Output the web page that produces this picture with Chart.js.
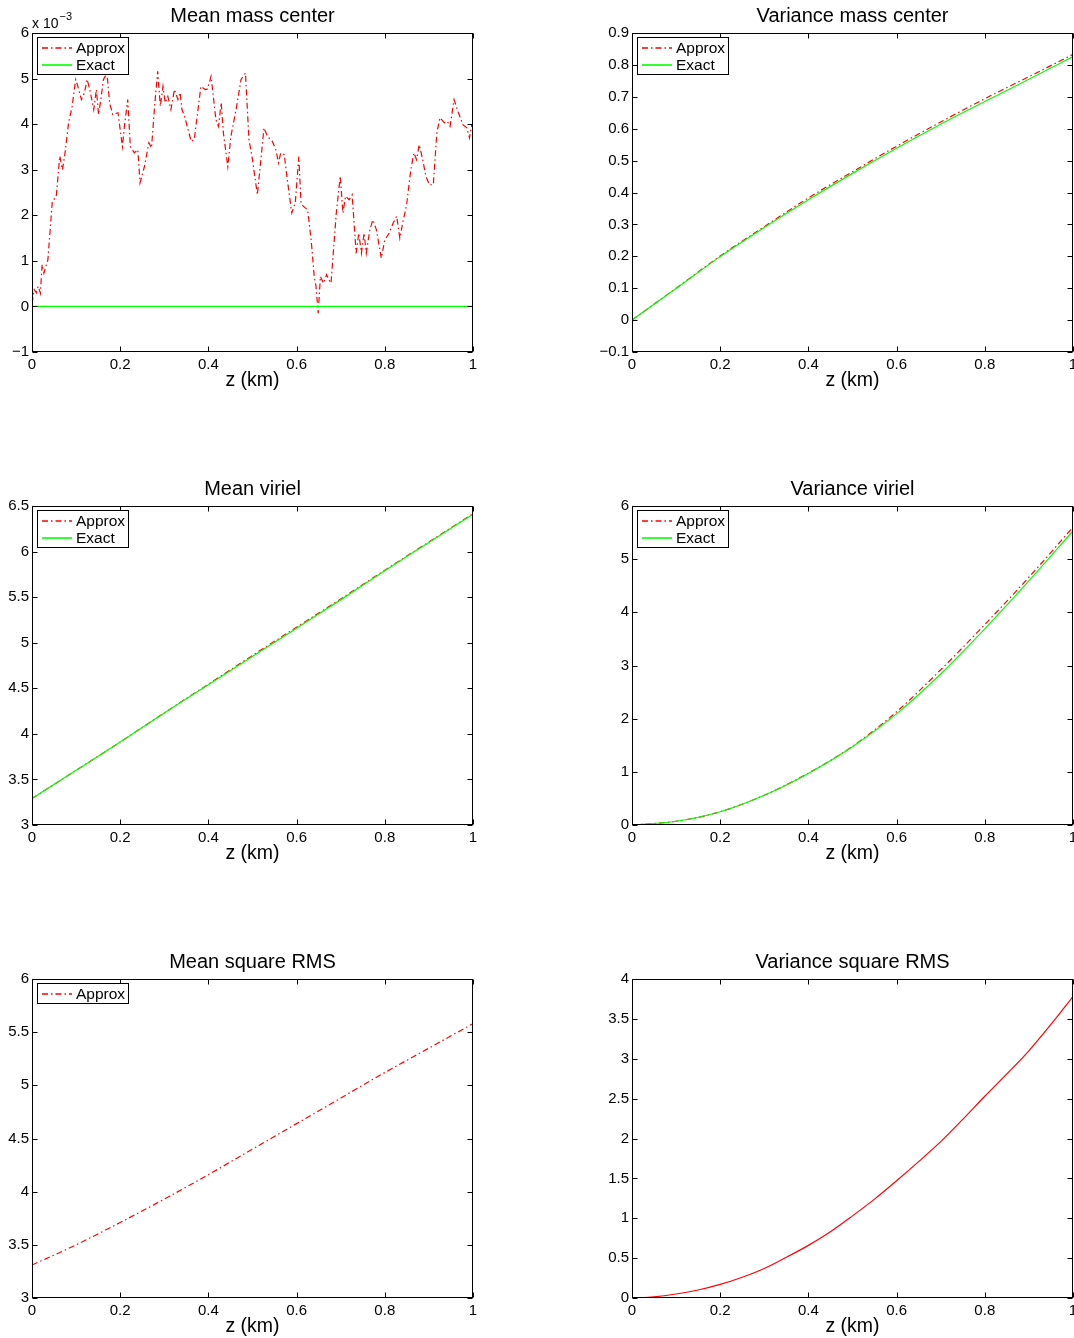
<!DOCTYPE html>
<html>
<head>
<meta charset="utf-8">
<script src="https://cdn.jsdelivr.net/npm/chart.js@4.4.0/dist/chart.umd.min.js"></script>
<style>
body { margin: 0; background: #fff; width: 1074px; height: 1338px; overflow: hidden; position: relative; }
canvas { position: absolute; }
</style>
</head>
<body>
<canvas id="c1" width="483" height="392" style="left:0px;top:0px"></canvas>
<canvas id="c2" width="474" height="392" style="left:600px;top:0px"></canvas>
<canvas id="c3" width="483" height="392" style="left:0px;top:473px"></canvas>
<canvas id="c4" width="474" height="392" style="left:600px;top:473px"></canvas>
<canvas id="c5" width="483" height="392" style="left:0px;top:946px"></canvas>
<canvas id="c6" width="474" height="392" style="left:600px;top:946px"></canvas>
<script>
var FONT = '"Liberation Sans", Arial, Helvetica, sans-serif';

// mean mass center (units of 1e-3)
var mcZ = [0,0.005,0.01,0.014,0.019,0.023,0.027,0.036,0.046,0.055,
  0.063,0.069,0.074,0.083,0.091,0.099,0.104,0.112,0.119,0.125,
  0.131,0.14,0.146,0.151,0.157,0.162,0.17,0.176,0.183,0.195,
  0.205,0.21,0.217,0.223,0.232,0.24,0.245,0.255,0.265,0.271,
  0.278,0.285,0.291,0.297,0.302,0.308,0.315,0.323,0.331,0.336,
  0.34,0.346,0.361,0.368,0.383,0.393,0.398,0.406,0.417,0.423,
  0.429,0.434,0.444,0.451,0.464,0.474,0.484,0.492,0.5,0.511,
  0.519,0.526,0.534,0.545,0.553,0.559,0.564,0.572,0.579,0.589,
  0.597,0.605,0.61,0.615,0.625,0.633,0.64,0.644,0.649,0.654,
  0.661,0.668,0.673,0.678,0.69,0.699,0.705,0.711,0.719,0.726,
  0.735,0.741,0.747,0.753,0.758,0.766,0.773,0.781,0.792,0.8,
  0.81,0.819,0.827,0.834,0.842,0.849,0.859,0.866,0.872,0.878,
  0.886,0.893,0.901,0.91,0.918,0.925,0.935,0.942,0.948,0.957,
  0.967,0.977,0.986,0.992,0.997,1.0];
var mcApprox = [0.07,0.37,0.3,0.44,0.29,0.92,0.73,1.02,2.3,2.42,
  3.3,3.0,3.3,4.03,4.39,4.98,4.83,4.54,4.69,4.98,
  4.76,4.32,4.76,4.21,4.61,4.98,5.12,4.47,4.21,4.25,
  3.51,3.99,4.54,3.51,3.37,3.44,2.71,3.07,3.59,3.48,
  4.39,5.16,4.39,4.83,4.47,4.61,4.32,4.76,4.54,4.69,
  4.32,4.17,3.62,3.66,4.83,4.76,4.77,5.05,4.10,3.95,
  4.47,3.81,3.07,3.73,4.39,4.98,5.12,3.66,3.22,2.45,
  3.22,3.92,3.73,3.62,3.44,3.15,3.37,3.33,2.78,2.05,
  2.27,3.29,2.27,2.20,2.12,1.46,0.66,0.44,-0.15,0.66,
  0.51,0.70,0.59,0.51,2.05,2.86,2.05,2.42,2.34,2.45,
  1.17,1.61,1.17,1.61,1.17,1.68,1.90,1.68,1.06,1.46,
  1.61,1.83,1.98,1.50,1.90,2.20,3.00,3.37,3.22,3.55,
  3.22,2.86,2.67,2.67,3.81,4.14,4.03,4.06,3.95,4.54,
  4.25,3.99,3.92,3.70,3.99,3.99];
var mcExactZ = [0, 1];
var mcExact = [0, 0];

var zGrid = [0,0.1,0.2,0.3,0.4,0.5,0.6,0.7,0.8,0.9,1];
var varMcApprox = [0,0.1,0.201,0.293,0.383,0.465,0.545,0.621,0.694,0.763,0.833];
var varMcExact  = [0,0.099,0.199,0.290,0.377,0.46,0.539,0.614,0.685,0.755,0.826];
var virApprox = [3.29,3.60,3.91,4.23,4.545,4.86,5.17,5.48,5.795,6.105,6.415];
var virExact  = [3.29,3.60,3.91,4.23,4.54,4.85,5.16,5.47,5.79,6.10,6.41];
var varVirApprox = [0,0.07,0.25,0.56,0.975,1.48,2.13,2.92,3.77,4.66,5.60];
var varVirExact  = [0,0.07,0.25,0.56,0.97,1.47,2.09,2.84,3.69,4.59,5.53];
var rmsApprox = [3.31,3.50,3.71,3.93,4.16,4.40,4.64,4.88,5.12,5.35,5.58];

var zFine = [0,0.05,0.1,0.15,0.2,0.25,0.3,0.35,0.4,0.45,0.5,0.55,0.6,0.65,0.7,0.75,0.8,0.85,0.9,0.95,1];
var varRms = [0,0.015,0.05,0.1,0.17,0.26,0.37,0.51,0.66,0.83,1.03,1.24,1.47,1.71,1.96,2.24,2.53,2.81,3.10,3.43,3.78];

var xTicks = [0, 0.2, 0.4, 0.6, 0.8, 1];

Chart.defaults.color = '#000';
Chart.defaults.font.family = FONT;

function pts(xs, ys) {
  return xs.map(function (x, i) { return { x: x, y: ys[i] }; });
}

function approx(xs, ys, smooth) {
  return {
    label: 'Approx', data: pts(xs, ys), borderColor: '#ff0000', borderWidth: 1.2,
    borderDash: [6, 3, 1.5, 3], pointRadius: 0, order: 1,
    cubicInterpolationMode: smooth ? 'monotone' : 'default'
  };
}
function exact(xs, ys) {
  return {
    label: 'Exact', data: pts(xs, ys), borderColor: '#00ff00', borderWidth: 1.2,
    pointRadius: 0, order: 0, cubicInterpolationMode: 'monotone'
  };
}

function fmt(v) {
  return (Math.round(v * 1000) / 1000).toString().replace('-', '\u2212');
}

// matlab style box, inward ticks, title over the axes, legend inside the axes
var matlabLook = {
  id: 'matlabLook',
  afterDraw: function (chart) {
    var ctx = chart.ctx, a = chart.chartArea;
    var o = chart.options.plugins.matlabLook || {};
    var xs = chart.scales.x, ys = chart.scales.y;
    ctx.save();
    ctx.strokeStyle = '#000';
    ctx.lineWidth = 1;
    var L = Math.round(a.left) + 0.5, R = Math.round(a.right) - 0.5;
    var T = Math.round(a.top) + 0.5, B = Math.round(a.bottom) - 0.5;
    ctx.beginPath();
    xs.ticks.forEach(function (t) {
      var px = Math.round(xs.getPixelForValue(t.value)) + 0.5;
      ctx.moveTo(px, B); ctx.lineTo(px, B - 5);
      ctx.moveTo(px, T); ctx.lineTo(px, T + 5);
    });
    ys.ticks.forEach(function (t) {
      var py = Math.round(ys.getPixelForValue(t.value)) + 0.5;
      ctx.moveTo(L, py); ctx.lineTo(L + 5, py);
      ctx.moveTo(R, py); ctx.lineTo(R - 5, py);
    });
    ctx.stroke();
    ctx.strokeRect(L, T, R - L, B - T);

    ctx.fillStyle = '#000';
    ctx.font = '20px ' + FONT;
    ctx.textAlign = 'center';
    ctx.textBaseline = 'middle';
    ctx.fillText(o.title, (a.left + a.right) / 2, a.top - 17);

    if (o.legend) {
      var items = chart.data.datasets;
      var top = Math.round(a.top) + 4, left = Math.round(a.left) + 5, w = 91, rowH = 17;
      var h = items.length * rowH + 3;
      ctx.fillStyle = '#fff';
      ctx.fillRect(left, top, w, h);
      ctx.strokeStyle = '#000';
      ctx.strokeRect(left + 0.5, top + 0.5, w, h);
      items.forEach(function (ds, i) {
        var cy = top + 2 + Math.round(rowH * (i + 0.5));
        ctx.beginPath();
        ctx.setLineDash(ds.borderDash || []);
        ctx.strokeStyle = ds.borderColor;
        ctx.lineWidth = 1.6;
        ctx.moveTo(Math.round(a.left) + 10, cy); ctx.lineTo(Math.round(a.left) + 40, cy);
        ctx.stroke();
        ctx.setLineDash([]);
        ctx.fillStyle = '#000';
        ctx.font = '15.5px ' + FONT;
        ctx.textBaseline = 'middle';
        ctx.textAlign = 'left';
        ctx.fillText(ds.label, a.left + 44, cy + 1);
      });
    }
    if (o.exponent) {
      ctx.fillStyle = '#000';
      ctx.textBaseline = 'alphabetic';
      ctx.textAlign = 'left';
      ctx.font = '14px ' + FONT;
      ctx.fillText('x 10', a.left, a.top - 5);
      var wd = ctx.measureText('x 10').width;
      ctx.font = '11px ' + FONT;
      ctx.fillText(o.exponent, a.left + wd + 1, a.top - 13);
    }
    ctx.restore();
  }
};

function makeChart(id, datasets, yMin, yMax, yStep, extra, padRight) {
  return new Chart(document.getElementById(id), {
    type: 'line',
    data: { datasets: datasets },
    plugins: [matlabLook],
    options: {
      responsive: false,
      animation: false,
      layout: { padding: { left: 0, right: padRight, top: 33, bottom: 0 } },
      plugins: {
        legend: { display: false },
        tooltip: { enabled: false },
        title: { display: false },
        matlabLook: extra
      },
      scales: {
        x: {
          type: 'linear', min: 0, max: 1,
          grid: { display: false, drawTicks: false },
          border: { display: false },
          afterBuildTicks: function (s) { s.ticks = xTicks.map(function (v) { return { value: v }; }); },
          ticks: { font: { size: 15 }, padding: 4, autoSkip: false, maxRotation: 0, callback: fmt },
          title: { display: true, text: 'z (km)', font: { size: 19.5 }, padding: { top: 0, bottom: 0 } },
          afterFit: function (s) { s.height = 40; s.paddingLeft = 0; s.paddingRight = 0; }
        },
        y: {
          min: yMin, max: yMax,
          grid: { display: false, drawTicks: false },
          border: { display: false },
          ticks: { stepSize: yStep, font: { size: 15 }, padding: 3, autoSkip: false, callback: fmt },
          afterFit: function (s) { s.width = 32; s.paddingTop = 0; s.paddingBottom = 0; }
        }
      }
    }
  });
}

makeChart('c1', [approx(mcZ, mcApprox, false), exact(mcExactZ, mcExact)], -1, 6, 1,
  { title: 'Mean mass center', legend: true, exponent: '\u22123' }, 10);
makeChart('c2', [approx(zGrid, varMcApprox, true), exact(zGrid, varMcExact)], -0.1, 0.9, 0.1,
  { title: 'Variance mass center', legend: true }, 1);
makeChart('c3', [approx(zGrid, virApprox, true), exact(zGrid, virExact)], 3, 6.5, 0.5,
  { title: 'Mean viriel', legend: true }, 10);
makeChart('c4', [approx(zGrid, varVirApprox, true), exact(zGrid, varVirExact)], 0, 6, 1,
  { title: 'Variance viriel', legend: true }, 1);
makeChart('c5', [approx(zGrid, rmsApprox, true)], 3, 6, 0.5,
  { title: 'Mean square RMS', legend: true }, 10);
makeChart('c6',
  [{ label: 'Variance', data: pts(zFine, varRms), borderColor: '#ff0000', borderWidth: 1.2,
     pointRadius: 0, cubicInterpolationMode: 'monotone' }], 0, 4, 0.5,
  { title: 'Variance square RMS', legend: false }, 1);
</script>
</body>
</html>
